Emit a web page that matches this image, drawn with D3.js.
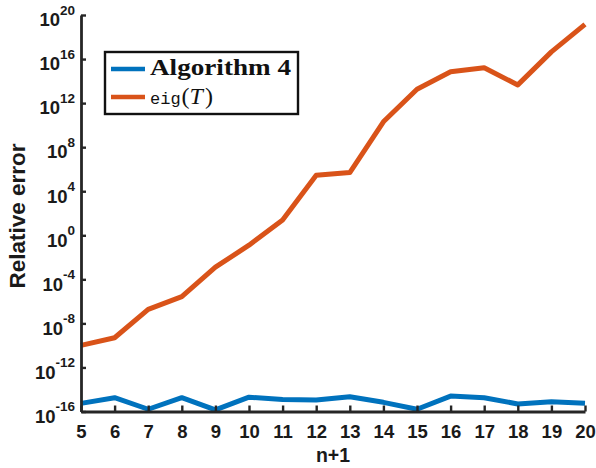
<!DOCTYPE html>
<html>
<head>
<meta charset="utf-8">
<script src="https://cdn.jsdelivr.net/npm/d3@7"></script>
<style>
  html, body { margin: 0; padding: 0; background: #fff; }
  svg { display: block; }
</style>
</head>
<body>
<svg id="chart" width="596" height="468"></svg>
<script>
// ---- data ----
const nValues = [5, 6, 7, 8, 9, 10, 11, 12, 13, 14, 15, 16, 17, 18, 19, 20];
const algorithm4 = [5.5e-16, 1.8e-15, 1.6e-16, 1.8e-15, 1.4e-16, 2.0e-15, 1.26e-15, 1.1e-15,
                    2.2e-15, 6.8e-16, 1.6e-16, 2.5e-15, 1.8e-15, 4.8e-16, 7.8e-16, 5.5e-16];
const eigT = [1.0e-10, 5.0e-10, 1.9e-7, 2.7e-6, 1.26e-3, 0.126, 25, 2.8e5,
              5.0e5, 2.0e10, 1.8e13, 7.0e14, 1.6e15, 4.5e13, 4.5e16, 1.4e19];
const xTicks = [5, 6, 7, 8, 9, 10, 11, 12, 13, 14, 15, 16, 17, 18, 19, 20];
const yTickExps = [-16, -12, -8, -4, 0, 4, 8, 12, 16, 20];
const seriesNames = ["Algorithm 4", "eig"];
const xLabel = "n+1";
const yLabel = "Relative error";

(function () {
// ---- layout ----
const svg = d3.select("#chart");
const pL = 81, pR = 585, pT = 15, pB = 411.5;
const axisColor = "#262626";
const blue = "#0072BD", orange = "#D95319";
const sans = "Helvetica, 'Liberation Sans', Arial, sans-serif";

const x = d3.scaleLinear().domain([5, 20]).range([pL, pR]);
const y = d3.scaleLog().domain([1e-16, 1e20]).range([pB, pT]);

// lines
const line = d3.line().x((d, i) => x(nValues[i])).y(d => y(d));
svg.append("path").datum(eigT).attr("d", line)
  .attr("fill", "none").attr("stroke", orange).attr("stroke-width", 5)
  .attr("stroke-linejoin", "round").attr("stroke-linecap", "butt");
svg.append("path").datum(algorithm4).attr("d", line)
  .attr("fill", "none").attr("stroke", blue).attr("stroke-width", 5)
  .attr("stroke-linejoin", "round").attr("stroke-linecap", "butt");

// x axis
const xAxis = d3.axisBottom(x).tickValues(xTicks).tickFormat(d3.format("d"))
  .tickSizeInner(-6).tickSizeOuter(0).tickPadding(13);
const gx = svg.append("g").attr("transform", `translate(0,${pB})`).call(xAxis);
gx.select(".domain").attr("stroke", axisColor).attr("stroke-width", 2.8);
gx.selectAll(".tick line").attr("stroke", axisColor).attr("stroke-width", 2.4);
gx.selectAll(".tick text").attr("fill", "#1a1a1a")
  .style("font-family", sans)
  .style("font-weight", "bold").style("font-size", "18.5px");

// y axis
const yAxis = d3.axisLeft(y).tickValues(yTickExps.map(e => Math.pow(10, e)))
  .tickFormat("").tickSizeInner(-5).tickSizeOuter(0);
const gy = svg.append("g").attr("transform", `translate(${pL},0)`).call(yAxis);
gy.select(".domain").attr("stroke", axisColor).attr("stroke-width", 2.8);
gy.selectAll(".tick line").attr("stroke", axisColor).attr("stroke-width", 2.4);
gy.selectAll(".tick text").remove();
gy.selectAll(".tick").each(function(d, i) {
  const t = d3.select(this).append("text")
    .attr("x", -6).attr("y", 10.8)
    .attr("text-anchor", "end").attr("fill", "#1a1a1a")
    .style("font-family", sans)
    .style("font-weight", "bold");
  t.append("tspan").style("font-size", "18.5px").text("10");
  t.append("tspan").attr("dy", -11.5).style("font-size", "13.5px").text(String(yTickExps[i]));
});

// axis labels
svg.append("text").attr("x", (pL + pR) / 2).attr("y", 462)
  .attr("text-anchor", "middle").attr("fill", "#1a1a1a")
  .style("font-family", sans)
  .style("font-weight", "bold").style("font-size", "19.5px").text(xLabel);
svg.append("text").attr("transform", "translate(25,216) rotate(-90)")
  .attr("text-anchor", "middle").attr("fill", "#1a1a1a")
  .style("font-family", sans)
  .style("font-weight", "bold").style("font-size", "22.5px").text(yLabel);

// legend
const lg = svg.append("g");
lg.append("rect").attr("x", 105).attr("y", 52).attr("width", 193).attr("height", 62)
  .attr("fill", "#fff").attr("stroke", "#111").attr("stroke-width", 2.4);
lg.append("line").attr("x1", 111).attr("x2", 145).attr("y1", 69).attr("y2", 69)
  .attr("stroke", blue).attr("stroke-width", 4.5);
lg.append("line").attr("x1", 111).attr("x2", 145).attr("y1", 97).attr("y2", 97)
  .attr("stroke", orange).attr("stroke-width", 4.5);
lg.append("text").attr("x", 150).attr("y", 75)
  .attr("textLength", 141).attr("lengthAdjust", "spacingAndGlyphs")
  .attr("fill", "#111")
  .style("font-family", "'Liberation Serif', 'DejaVu Serif', serif")
  .style("font-weight", "bold").style("font-size", "24px").text(seriesNames[0]);
const t2 = lg.append("text").attr("x", 150).attr("y", 104).attr("fill", "#111");
t2.append("tspan")
  .style("font-family", "'Liberation Mono', 'DejaVu Sans Mono', monospace")
  .style("font-size", "17px").text(seriesNames[1]);
t2.append("tspan").attr("dx", 1).style("font-family", "'Liberation Serif', serif").style("font-size", "24px").text("(");
t2.append("tspan").style("font-family", "'Liberation Serif', serif").style("font-style", "italic")
  .style("font-size", "24px").text("T");
t2.append("tspan").attr("dx", 2).style("font-family", "'Liberation Serif', serif").style("font-size", "24px").text(")");
})();
</script>
</body>
</html>
